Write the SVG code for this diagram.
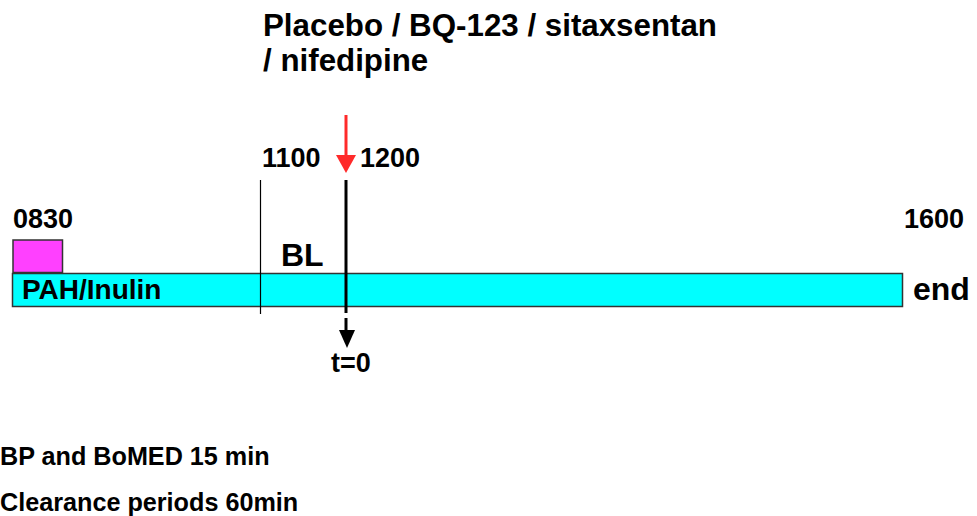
<svg xmlns="http://www.w3.org/2000/svg" width="977" height="516" viewBox="0 0 977 516">
  <defs>
    <style>
      text { font-family: "Liberation Sans", Arial, sans-serif; font-weight: bold; fill: #000; }
      .t27 { font-size: 27px; }
      .title { font-size: 31.3px; }
      .note { font-size: 25.2px; }
    </style>
  </defs>
  <rect width="977" height="516" fill="#fff"/>

  <g id="title">
    <text class="title" x="263" y="36">Placebo / BQ-123 / sitaxsentan</text>
    <text class="title" x="263" y="71">/ nifedipine</text>
  </g>

  <g id="infusion-bar">
    <rect x="12.5" y="273.5" width="890" height="33" fill="#00ffff" stroke="#333" stroke-width="1.5"/>
    <text x="22" y="299" style="font-size:28px">PAH/Inulin</text>
  </g>

  <g id="priming-dose">
    <rect x="13" y="240" width="49.5" height="32.5" fill="#ff40ff" stroke="#333" stroke-width="1.5"/>
  </g>

  <g id="time-labels">
    <text class="t27" x="13" y="228">0830</text>
    <text class="t27" x="262" y="167">1100</text>
    <text class="t27" x="360" y="167">1200</text>
    <text class="t27" x="904" y="228">1600</text>
    <text x="281" y="266" style="font-size:32px">BL</text>
    <text x="913" y="300" style="font-size:32px">end</text>
    <text class="t27" x="331" y="372">t=0</text>
  </g>

  <g id="connectors">
    <line x1="260.5" y1="180" x2="260.5" y2="314" stroke="#000" stroke-width="1.2"/>
    <line x1="346" y1="180" x2="346" y2="313" stroke="#000" stroke-width="3"/>
    <!-- dosing arrow -->
    <line x1="346" y1="115" x2="346" y2="158" stroke="#ff2a2a" stroke-width="3"/>
    <polygon points="336,155 356,155 346,173" fill="#ff2a2a"/>
    <!-- start of treatment arrow -->
    <line x1="346" y1="318" x2="346" y2="332" stroke="#000" stroke-width="3"/>
    <polygon points="339,330 355,330 347,348" fill="#000"/>
  </g>

  <g id="notes">
    <text class="note" x="0" y="465">BP and BoMED 15 min</text>
    <text class="note" x="0" y="511">Clearance periods 60min</text>
  </g>
</svg>
